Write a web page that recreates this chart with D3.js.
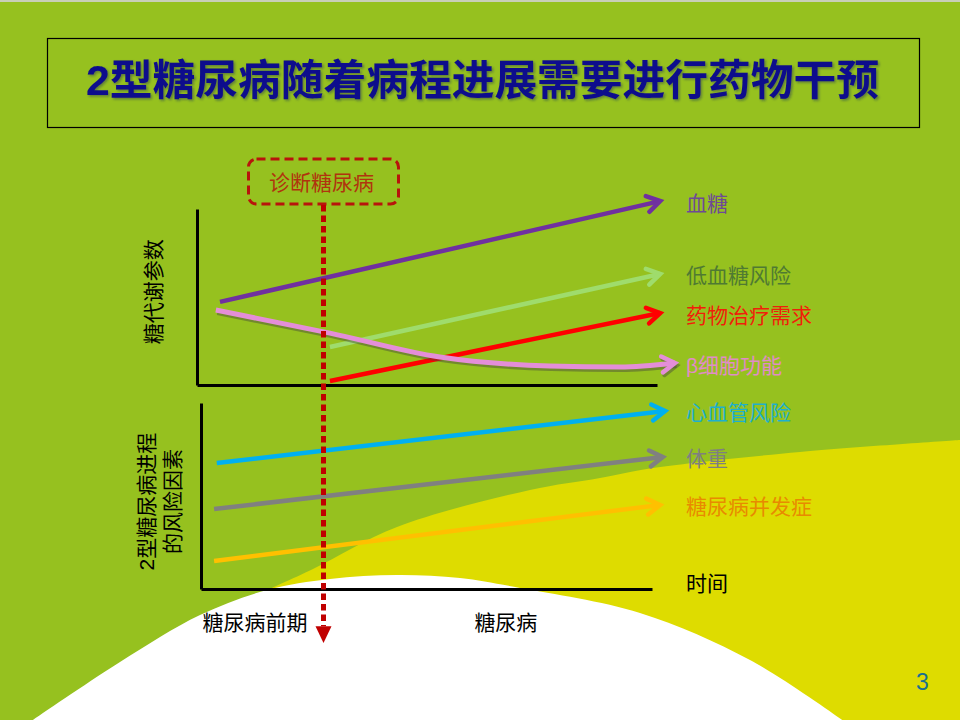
<!DOCTYPE html>
<html>
<head>
<meta charset="utf-8">
<script src="https://cdn.jsdelivr.net/npm/d3@7"></script>
<style>
  body { margin: 0; }
  svg { display: block; }
  text { font-family: "Liberation Sans", "Noto Sans CJK SC", sans-serif; }
</style>
</head>
<body>
<svg id="chart"></svg>
<script>
const title = "2型糖尿病随着病程进展需要进行药物干预";
const diagnosisLabel = "诊断糖尿病";
const upperAxisLabel = "糖代谢参数";
const lowerAxisLabel = ["2型糖尿病进程", "的风险因素"];
const timeLabel = "时间";
const pageNumber = "3";

// x = disease course (0-100), y = relative level (0-100)
const upperNames = ["血糖", "低血糖风险", "药物治疗需求", "β细胞功能"];
const glucose = [[5, 47.2], [100.7, 104.5]];
const hypoRisk = [[28.9, 21.6], [100.7, 63.1]];
const drugNeed = [[28.9, 2.3], [100.7, 40.9]];
const betaCell = [[4.1, 42.6], [28.9, 29.5], [52.8, 15.9], [76.7, 10.8], [92, 10.2], [103.9, 12.5]];

const lowerNames = ["心血管风险", "体重", "糖尿病并发症"];
const cvRisk = [[3.5, 67.7], [102.9, 95.7]];
const weight = [[2.9, 43], [102.4, 71]];
const complications = [[2.9, 15], [101.8, 45.2]];

const diagnosisAt = 27.5;
const stageLabels = ["糖尿病前期", "糖尿病"];
const stageAt = [12, 67.6];

// colours
const upperLineColors = ["#7030a0", "#9fdc6c", "#ff0000", "#e48ed8"];
const upperTextColors = ["#6e4a96", "#4f7a32", "#f01e0a", "#e08cc6"];
const lowerLineColors = ["#00b0f0", "#808080", "#ffc000"];
const lowerTextColors = ["#1eb0cc", "#7f7f7f", "#e88a00"];

const width = 960;
const height = 720;
const svg = d3.select("#chart").attr("width", width).attr("height", height);
const defs = svg.append("defs");

// soft shadow for the title
defs.append("filter")
    .attr("id", "titleShadow")
    .attr("x", "-5%").attr("y", "-20%").attr("width", "110%").attr("height", "140%")
    .append("feDropShadow")
    .attr("dx", 1.5).attr("dy", 1.5).attr("stdDeviation", 1)
    .attr("flood-color", "#1e285a").attr("flood-opacity", 0.45);

// ---- background ----
svg.append("rect").attr("width", width).attr("height", height).attr("fill", "#96c11f");
svg.append("rect").attr("width", width).attr("height", 2).attr("fill", "#c9cfb8");

const yellowEdge = [[263, 592], [313, 569], [397, 527], [530, 490], [600, 478], [653, 468], [800, 452], [960, 440]];
const whiteEdge = [[30, 722], [120, 662], [200, 615], [267, 590], [330, 579], [397, 575], [460, 578], [520, 588], [640, 613], [750, 660], [845, 722]];
const smooth = d3.line().curve(d3.curveCatmullRom);

svg.append("path")
    .attr("d", smooth(yellowEdge) + "L960,720L263,720Z")
    .attr("fill", "#dedc00");
svg.append("path")
    .attr("d", smooth(whiteEdge) + "Z")
    .attr("fill", "#ffffff");

// ---- title ----
svg.append("rect")
    .attr("x", 47.5).attr("y", 38.5).attr("width", 872).attr("height", 89)
    .attr("fill", "none").attr("stroke", "#000").attr("stroke-width", 1.2);
svg.append("text")
    .attr("x", 86).attr("y", 95)
    .attr("textLength", 793).attr("lengthAdjust", "spacingAndGlyphs")
    .attr("font-size", 42).attr("font-weight", "bold")
    .attr("fill", "#0c0c8c")
    .attr("filter", "url(#titleShadow)")
    .text(title);

// ---- scales & axes ----
const xUpper = d3.scaleLinear().domain([0, 100]).range([197, 657]);
const yUpper = d3.scaleLinear().domain([0, 100]).range([385, 209]);
const xLower = d3.scaleLinear().domain([0, 100]).range([201, 652]);
const yLower = d3.scaleLinear().domain([0, 100]).range([589, 403]);

const drawAxes = (x, y) => {
    svg.append("g")
        .attr("transform", "translate(0," + y(0) + ")")
        .call(d3.axisBottom(x).ticks(0).tickSizeOuter(0))
        .select(".domain").attr("stroke", "#000").attr("stroke-width", 3);
    svg.append("g")
        .attr("transform", "translate(" + x(0) + ",0)")
        .call(d3.axisLeft(y).ticks(0).tickSizeOuter(0))
        .select(".domain").attr("stroke", "#000").attr("stroke-width", 3);
};
drawAxes(xUpper, yUpper);
drawAxes(xLower, yLower);

// ---- arrow markers ----
const chevron = (id, color) => {
    defs.append("marker")
        .attr("id", id)
        .attr("markerUnits", "userSpaceOnUse")
        .attr("viewBox", "-16 -10 20 20")
        .attr("markerWidth", 20).attr("markerHeight", 20)
        .attr("refX", 0).attr("refY", 0)
        .attr("orient", "auto")
        .style("overflow", "visible")
        .append("path")
        .attr("d", "M-13,-8L0,0L-13,8")
        .attr("fill", "none")
        .attr("stroke", color)
        .attr("stroke-width", 4.5)
        .attr("stroke-linecap", "round")
        .attr("stroke-linejoin", "miter");
};

const drawSeries = (series, x, y, lineColors, textColors, names, prefix) => {
    const line = d3.line().x((d) => x(d[0])).y((d) => y(d[1])).curve(d3.curveMonotoneX);
    series.forEach((values, i) => {
        const id = prefix + i;
        chevron(id, lineColors[i]);
        const curved = values.length > 2;
        if (curved) {
            chevron(id + "s", "rgba(70,70,60,0.45)");
            svg.append("path")
                .attr("d", line(values))
                .attr("transform", "translate(1.5,2.5)")
                .attr("fill", "none")
                .attr("stroke", "rgba(70,70,60,0.45)")
                .attr("stroke-width", 5)
                .attr("marker-end", "url(#" + id + "s)");
        }
        svg.append("path")
            .attr("d", line(values))
            .attr("fill", "none")
            .attr("stroke", lineColors[i])
            .attr("stroke-width", curved ? 5 : 4.5)
            .attr("marker-end", "url(#" + id + ")");
        const last = values[values.length - 1];
        svg.append("text")
            .attr("x", 686)
            .attr("y", y(last[1]) + 2)
            .attr("dominant-baseline", "central")
            .attr("font-size", 21)
            .attr("fill", textColors[i])
            .text(names[i]);
    });
};

drawSeries([glucose, hypoRisk, drugNeed, betaCell], xUpper, yUpper, upperLineColors, upperTextColors, upperNames, "up");
drawSeries([cvRisk, weight, complications], xLower, yLower, lowerLineColors, lowerTextColors, lowerNames, "lo");

// ---- axis texts ----
svg.append("text")
    .attr("transform", "translate(153," + yUpper(53) + ") rotate(-90)")
    .attr("text-anchor", "middle").attr("dominant-baseline", "central")
    .attr("font-size", 21).attr("fill", "#000")
    .text(upperAxisLabel);

lowerAxisLabel.forEach((t, i) => {
    svg.append("text")
        .attr("transform", "translate(" + (146 + i * 26) + "," + yLower(47) + ") rotate(-90)")
        .attr("text-anchor", "middle").attr("dominant-baseline", "central")
        .attr("font-size", 21).attr("fill", "#000")
        .text(t);
});

svg.append("text")
    .attr("x", 686).attr("y", yLower(0) - 6)
    .attr("dominant-baseline", "central")
    .attr("font-size", 21).attr("fill", "#000")
    .text(timeLabel);

svg.selectAll(".stage")
    .data(stageLabels)
    .enter()
    .append("text")
    .attr("class", "stage")
    .attr("x", (d, i) => xLower(stageAt[i]))
    .attr("y", yLower(0) + 33)
    .attr("text-anchor", "middle").attr("dominant-baseline", "central")
    .attr("font-size", 21).attr("fill", "#000")
    .text((d) => d);

// ---- diagnosis marker ----
const dx = xUpper(diagnosisAt);
svg.append("rect")
    .attr("x", dx - 75).attr("y", 159).attr("width", 150).attr("height", 45)
    .attr("rx", 8)
    .attr("fill", "none")
    .attr("stroke", "#b8140c").attr("stroke-width", 3)
    .attr("stroke-dasharray", "9,5");
svg.append("text")
    .attr("x", dx - 2).attr("y", 182)
    .attr("text-anchor", "middle").attr("dominant-baseline", "central")
    .attr("font-size", 21).attr("fill", "#b0340e")
    .text(diagnosisLabel);

svg.append("line")
    .attr("x1", dx).attr("x2", dx)
    .attr("y1", 205).attr("y2", yLower(-20))
    .attr("stroke", "#c00000").attr("stroke-width", 5)
    .attr("stroke-dasharray", "6.5,4");
svg.append("path")
    .attr("d", "M" + (dx - 8) + "," + yLower(-20) + "L" + (dx + 8) + "," + yLower(-20) + "L" + dx + "," + yLower(-29) + "Z")
    .attr("fill", "#c00000");

svg.append("text")
    .attr("x", 916).attr("y", 682)
    .attr("dominant-baseline", "central")
    .attr("font-size", 23).attr("fill", "#1a7090")
    .text(pageNumber);
</script>
</body>
</html>
